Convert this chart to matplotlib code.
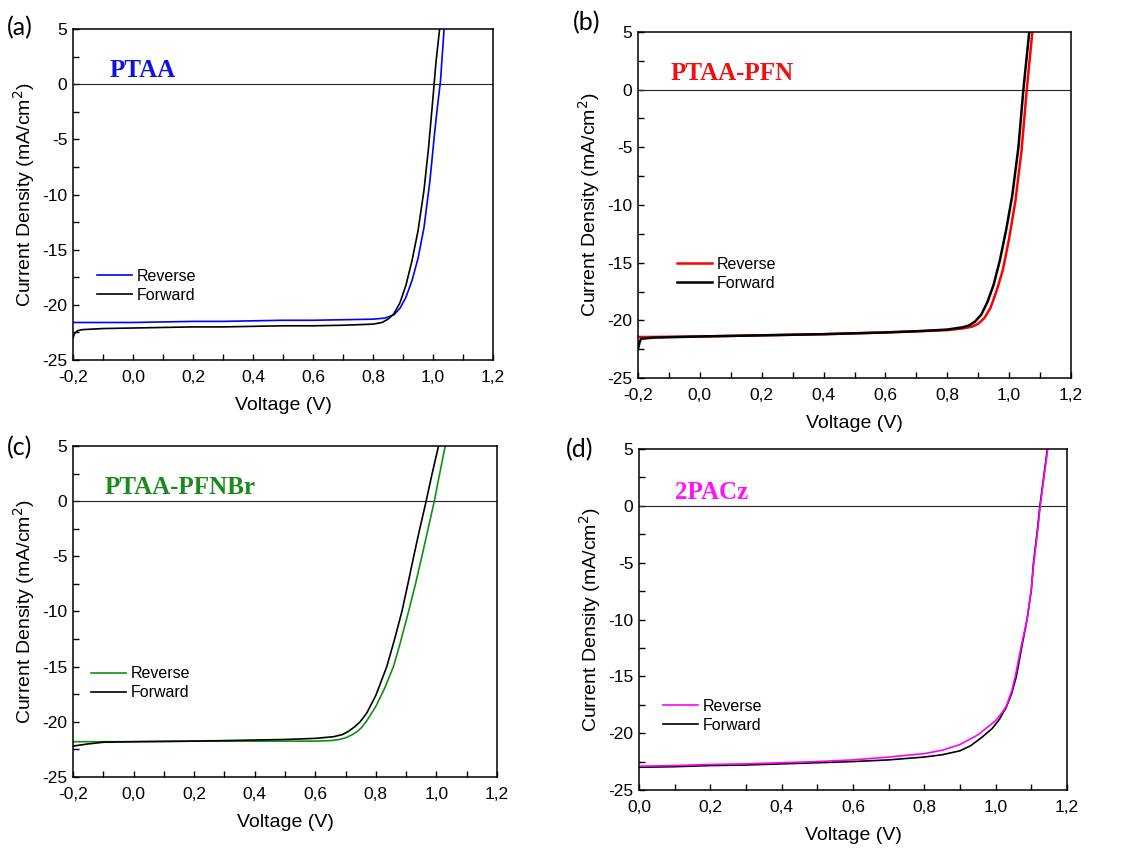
import matplotlib.pyplot as plt
from matplotlib.ticker import MultipleLocator, FuncFormatter

plt.rcParams['font.family'] = 'Liberation Sans'
plt.rcParams['axes.unicode_minus'] = False

# (a) PTAA
a_rev_v = [-0.2, -0.1, 0.0, 0.1, 0.2, 0.3, 0.4, 0.5, 0.6, 0.7, 0.8, 0.84, 0.87, 0.89, 0.91,
           0.93, 0.95, 0.97, 0.99, 1.005, 1.015, 1.025, 1.037]
a_rev_j = [-21.6, -21.6, -21.6, -21.55, -21.5, -21.5, -21.45, -21.4, -21.4, -21.35, -21.3, -21.2,
           -20.9, -20.3, -19.3, -17.8, -15.8, -13.0, -8.7, -4.5, -2.0, 0.3, 5.0]
a_fwd_v = [-0.2, -0.195, -0.185, -0.17, -0.1, 0.0, 0.1, 0.2, 0.3, 0.4, 0.5, 0.6, 0.7, 0.75, 0.8,
           0.83, 0.85, 0.87, 0.89, 0.91, 0.93, 0.95, 0.97, 0.985, 1.0, 1.01, 1.022]
a_fwd_j = [-23.0, -22.6, -22.35, -22.25, -22.15, -22.1, -22.05, -22.0, -22.0, -21.95, -21.9, -21.9,
           -21.85, -21.8, -21.75, -21.6, -21.3, -20.8, -19.8, -18.2, -16.0, -13.3, -9.6, -5.8, -1.2,
           2.0, 5.0]

# (b) PTAA-PFN
b_rev_v = [-0.2, 0.0, 0.2, 0.4, 0.6, 0.7, 0.8, 0.85, 0.88, 0.9, 0.92, 0.94, 0.96, 0.98, 1.0,
           1.02, 1.04, 1.057, 1.075]
b_rev_j = [-21.45, -21.4, -21.3, -21.2, -21.05, -20.95, -20.85, -20.7, -20.55, -20.3, -19.8, -18.9,
           -17.4, -15.6, -12.9, -9.7, -5.3, 0.0, 5.0]
b_fwd_v = [-0.2, -0.195, -0.19, -0.15, 0.0, 0.2, 0.4, 0.6, 0.7, 0.8, 0.85, 0.87, 0.89, 0.91, 0.93,
           0.95, 0.97, 0.99, 1.01, 1.03, 1.046, 1.065]
b_fwd_j = [-22.5, -21.9, -21.6, -21.5, -21.4, -21.3, -21.2, -21.05, -20.95, -20.8, -20.6, -20.45,
           -20.1, -19.5, -18.4, -16.9, -14.8, -12.2, -9.2, -5.0, 0.0, 5.0]

# (c) PTAA-PFNBr
c_rev_v = [-0.2, 0.0, 0.2, 0.4, 0.6, 0.65, 0.68, 0.7, 0.72, 0.74, 0.755, 0.77, 0.8, 0.83, 0.858,
           0.88, 0.908, 0.93, 0.952, 0.97, 0.993, 1.01, 1.029]
c_rev_j = [-21.8, -21.8, -21.75, -21.75, -21.75, -21.7, -21.6, -21.45, -21.2, -20.85, -20.45, -19.9,
           -18.6, -16.9, -15.0, -12.9, -10.0, -7.6, -5.0, -2.8, 0.0, 2.4, 5.0]
c_fwd_v = [-0.2, -0.15, -0.1, 0.0, 0.2, 0.4, 0.5, 0.6, 0.66, 0.69, 0.71, 0.73, 0.748, 0.77, 0.8,
           0.836, 0.86, 0.886, 0.905, 0.925, 0.945, 0.966, 0.985, 1.007]
c_fwd_j = [-22.2, -22.0, -21.85, -21.8, -21.75, -21.65, -21.6, -21.5, -21.35, -21.15, -20.85, -20.45,
           -20.0, -19.2, -17.6, -15.0, -12.7, -10.0, -7.6, -5.0, -2.5, 0.0, 2.4, 5.0]

# (d) 2PACz
d_rev_v = [0.0, 0.1, 0.2, 0.3, 0.4, 0.5, 0.6, 0.7, 0.8, 0.85, 0.9, 0.95, 0.98, 1.0, 1.02, 1.03,
           1.045, 1.055, 1.07, 1.088, 1.1, 1.107, 1.117, 1.125, 1.135, 1.146]
d_rev_j = [-22.9, -22.85, -22.75, -22.7, -22.6, -22.5, -22.35, -22.1, -21.8, -21.5, -21.0, -20.15,
           -19.4, -18.9, -18.1, -17.6, -16.3, -15.0, -12.6, -10.0, -7.3, -5.0, -2.4, 0.0, 2.4, 5.0]
d_fwd_v = [0.0, 0.1, 0.2, 0.3, 0.4, 0.5, 0.6, 0.7, 0.8, 0.85, 0.9, 0.93, 0.96, 0.99, 1.01, 1.03,
           1.045, 1.058, 1.072, 1.088, 1.1, 1.106, 1.116, 1.124, 1.134, 1.145]
d_fwd_j = [-23.0, -22.95, -22.85, -22.8, -22.7, -22.6, -22.5, -22.35, -22.1, -21.9, -21.55, -21.1,
           -20.4, -19.6, -18.8, -17.7, -16.5, -15.0, -12.6, -10.0, -7.4, -5.0, -2.4, 0.0, 2.4, 5.0]

W, H = 1129, 850
fig = plt.figure(figsize=(W / 100, H / 100), dpi=100)

panels = [
    dict(box=(73, 29, 493, 360), letter='(a)', lpos=(7, 28), name='PTAA', color='#0000ff',
         tcolor='#1010e0', tpos=(-0.078, 0.68), leg=(0.057, 0.275), xmin=-0.2, lw=1.2,
         rev=(a_rev_v, a_rev_j), fwd=(a_fwd_v, a_fwd_j)),
    dict(box=(638, 32, 1071, 378), letter='(b)', lpos=(573, 23), name='PTAA-PFN', color='#ff0000',
         tcolor='#ee1111', tpos=(-0.096, 0.87), leg=(0.09, 0.35), xmin=-0.2, lw=1.8,
         rev=(b_rev_v, b_rev_j), fwd=(b_fwd_v, b_fwd_j)),
    dict(box=(73, 446, 497, 777), letter='(c)', lpos=(7, 448), name='PTAA-PFNBr', color='#109010',
         tcolor='#1a8a1a', tpos=(-0.095, 0.62), leg=(0.042, 0.335), xmin=-0.2, lw=1.2,
         rev=(c_rev_v, c_rev_j), fwd=(c_fwd_v, c_fwd_j)),
    dict(box=(639, 449, 1067, 790), letter='(d)', lpos=(566, 450), name='2PACz', color='#ff00ff',
         tcolor='#ff10ff', tpos=(0.1, 0.6), leg=(0.056, 0.268), xmin=0.0, lw=1.2,
         rev=(d_rev_v, d_rev_j), fwd=(d_fwd_v, d_fwd_j)),
]

comma = FuncFormatter(lambda v, p: f"{v:.1f}".replace('.', ','))

for p in panels:
    l, t, r, b = p['box']
    ax = fig.add_axes([l / W, 1 - b / H, (r - l) / W, (b - t) / H])
    ax.axhline(0, color='#222222', lw=0.8)
    if p['letter'] == '(d)':
        fl, = ax.plot(*p['fwd'], color='black', lw=p['lw'], label='Forward')
        rl, = ax.plot(*p['rev'], color=p['color'], lw=p['lw'], label='Reverse')
    else:
        rl, = ax.plot(*p['rev'], color=p['color'], lw=p['lw'], label='Reverse')
        fl, = ax.plot(*p['fwd'], color='black', lw=p['lw'], label='Forward')
    ax.set_xlim(p['xmin'], 1.2)
    ax.set_ylim(-25, 5)
    ax.xaxis.set_major_locator(MultipleLocator(0.2))
    ax.xaxis.set_minor_locator(MultipleLocator(0.1))
    ax.yaxis.set_major_locator(MultipleLocator(5))
    ax.yaxis.set_minor_locator(MultipleLocator(2.5))
    ax.xaxis.set_major_formatter(comma)
    ax.tick_params(which='both', direction='in', top=False, right=False, labelsize=12.5,
                   length=4, width=1)
    ax.tick_params(axis='x', which='major', pad=7)
    ax.tick_params(axis='y', which='major', pad=4)
    for s in ax.spines.values():
        s.set_linewidth(1.1)
    ax.set_xlabel('Voltage (V)', fontsize=14, labelpad=9)
    ax.set_ylabel('Current Density (mA/cm$^2$)', fontsize=14, labelpad=4)
    ax.text(p['tpos'][0], p['tpos'][1], p['name'], color=p['tcolor'], fontsize=18,
            fontweight='bold', family='Liberation Serif')
    ax.legend(handles=[rl, fl], loc='upper left', bbox_to_anchor=p['leg'], frameon=False,
              borderpad=0, borderaxespad=0, handlelength=2.2, handletextpad=0.3,
              labelspacing=0.25, fontsize=11.5)
    fig.text(p['lpos'][0] / W, 1 - p['lpos'][1] / H, p['letter'], fontsize=18,
             family='Lato', va='center', ha='left')

plt.savefig('out.png', dpi=100)
